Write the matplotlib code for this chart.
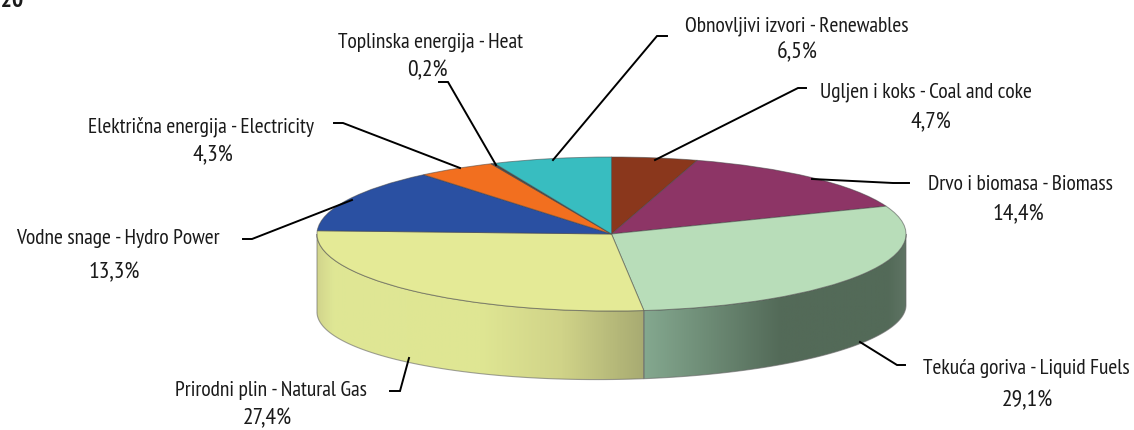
"""
Pie with 3D look: energy consumption shares by source, 2020.
Drawn with ax.pie on a squashed axes, side wall added as gradient polygons.
"""
import numpy as np
import matplotlib
matplotlib.use("Agg")
import matplotlib.pyplot as plt
from matplotlib.colors import LinearSegmentedColormap
from matplotlib.patches import Polygon
from matplotlib.transforms import Affine2D

plt.rcParams["font.family"] = ["PT Sans Narrow", "Fira Sans Condensed",
                               "Roboto Condensed", "DejaVu Sans"]

W, H = 1134, 430

names = [
    "Ugljen i koks - Coal and coke",
    "Drvo i biomasa - Biomass",
    "Tekuća goriva - Liquid Fuels",
    "Prirodni plin - Natural Gas",
    "Vodne snage - Hydro Power",
    "Električna energija - Electricity",
    "Toplinska energija - Heat",
    "Obnovljivi izvori - Renewables",
]
shares = [4.7, 14.4, 29.1, 27.4, 13.3, 4.3, 0.2, 6.5]
pct_labels = ["4,7%", "14,4%", "29,1%", "27,4%", "13,3%", "4,3%", "0,2%", "6,5%"]
year_label = "2020"

colors = ["#8a371c", "#8d3566", "#b8ddb9", "#e4ea96",
          "#2a50a2", "#f26f1f", "#4a4a4a", "#38bdc0"]

# pixel positions of the annotations
name_xy = [(926, 92), (1020, 184), (1026, 368), (271, 390),
           (118, 239), (201, 127), (430, 42), (797, 26)]
pct_xy = [(931, 123), (1018, 215), (1027, 401), (267, 419),
          (114, 273), (213, 156), (427, 71), (797, 53)]
leaders = [
    [(806, 88), (798, 88), (655, 160)],
    [(909, 183), (893, 183), (812, 179)],
    [(905, 365), (897, 365), (860, 342)],
    [(390, 391), (400, 391), (409, 358)],
    [(243, 239), (252, 239), (352, 200)],
    [(334, 123), (343, 123), (460, 168)],
    [(439, 82), (448, 82), (496, 165)],
    [(667, 36), (657, 36), (553, 160)],
]

# ellipse geometry in pixels
CX, CY, RX, RY = 611.5, 234, 294.5, 77
BOT_CY, BOT_RY, BOT_TILT = 308.5, 71, 3.5


def wall_poly(a0, a1):
    """Side wall between clockwise angles a0, a1 (deg from top), data units."""
    t = np.radians(np.linspace(a0, a1, 120))
    top = np.column_stack([np.sin(t), np.cos(t)])
    by = BOT_CY + BOT_RY * -np.cos(t) - BOT_TILT * np.sin(t)
    bot = np.column_stack([np.sin(t), (CY - by) / RY])
    return np.vstack([top, bot[::-1]])


def gradient_wall(ax, a0, a1, stops):
    """Fill the wall polygon with a left-to-right colour ramp."""
    poly = Polygon(wall_poly(a0, a1), closed=True, fc="none", ec="#66666699",
                   lw=0.8, zorder=3)
    ax.add_patch(poly)
    xmin, xmax = poly.get_xy()[:, 0].min(), poly.get_xy()[:, 0].max()
    ymin, ymax = poly.get_xy()[:, 1].min(), poly.get_xy()[:, 1].max()
    cmap = LinearSegmentedColormap.from_list("wall", stops)
    im = ax.imshow(np.linspace(0, 1, 400)[None, :], cmap=cmap, aspect="auto",
                   extent=(xmin, xmax, ymin, ymax), zorder=2, vmin=0, vmax=1)
    im.set_clip_path(poly)


fig = plt.figure(figsize=(W / 100, H / 100), dpi=100)
ax = fig.add_axes([0, 0, 1, 1])

ax.pie(shares, colors=colors, startangle=90, counterclock=False,
       wedgeprops={"edgecolor": "#44444488", "linewidth": 0.7, "zorder": 4})

cum = np.cumsum(shares) / sum(shares) * 360
gradient_wall(ax, 90, cum[2], [
    (0.0, "#84a88f"), (0.52, "#536a58"), (0.93, "#536a58"), (1.0, "#5f7464")])
gradient_wall(ax, cum[2], 270, [
    (0.0, "#d2d58c"), (0.05, "#dfe795"), (0.5, "#dfe693"),
    (0.75, "#d0d388"), (1.0, "#a8ab72")])

ax.set_aspect("auto")
ax.set_xlim(-CX / RX, (W - CX) / RX)
ax.set_ylim(-(H - CY) / RY, CY / RY)
ax.axis("off")

# annotations are placed in image pixels, y down
px = Affine2D().scale(1 / W, -1 / H).translate(0, 1) + fig.transFigure

for pts in leaders:
    xs, ys = zip(*pts)
    ax.plot(xs, ys, color="black", lw=1.4, transform=px, zorder=6,
            solid_joinstyle="miter", clip_on=False)

for name, pct, nxy, pxy in zip(names, pct_labels, name_xy, pct_xy):
    ax.text(*nxy, name, transform=px, ha="center", va="center",
            fontsize=15.5, color="#1a1a1a", zorder=7)
    ax.text(*pxy, pct, transform=px, ha="center", va="center",
            fontsize=17, color="#1a1a1a", zorder=7)

# the year is cut off by the top left corner in the source picture too
ax.text(24, 7, year_label, transform=px, ha="right", va="baseline",
        fontsize=17, fontweight="bold", color="#1a1a1a", clip_on=False)

fig.savefig("out.png", dpi=100)
plt.close(fig)
